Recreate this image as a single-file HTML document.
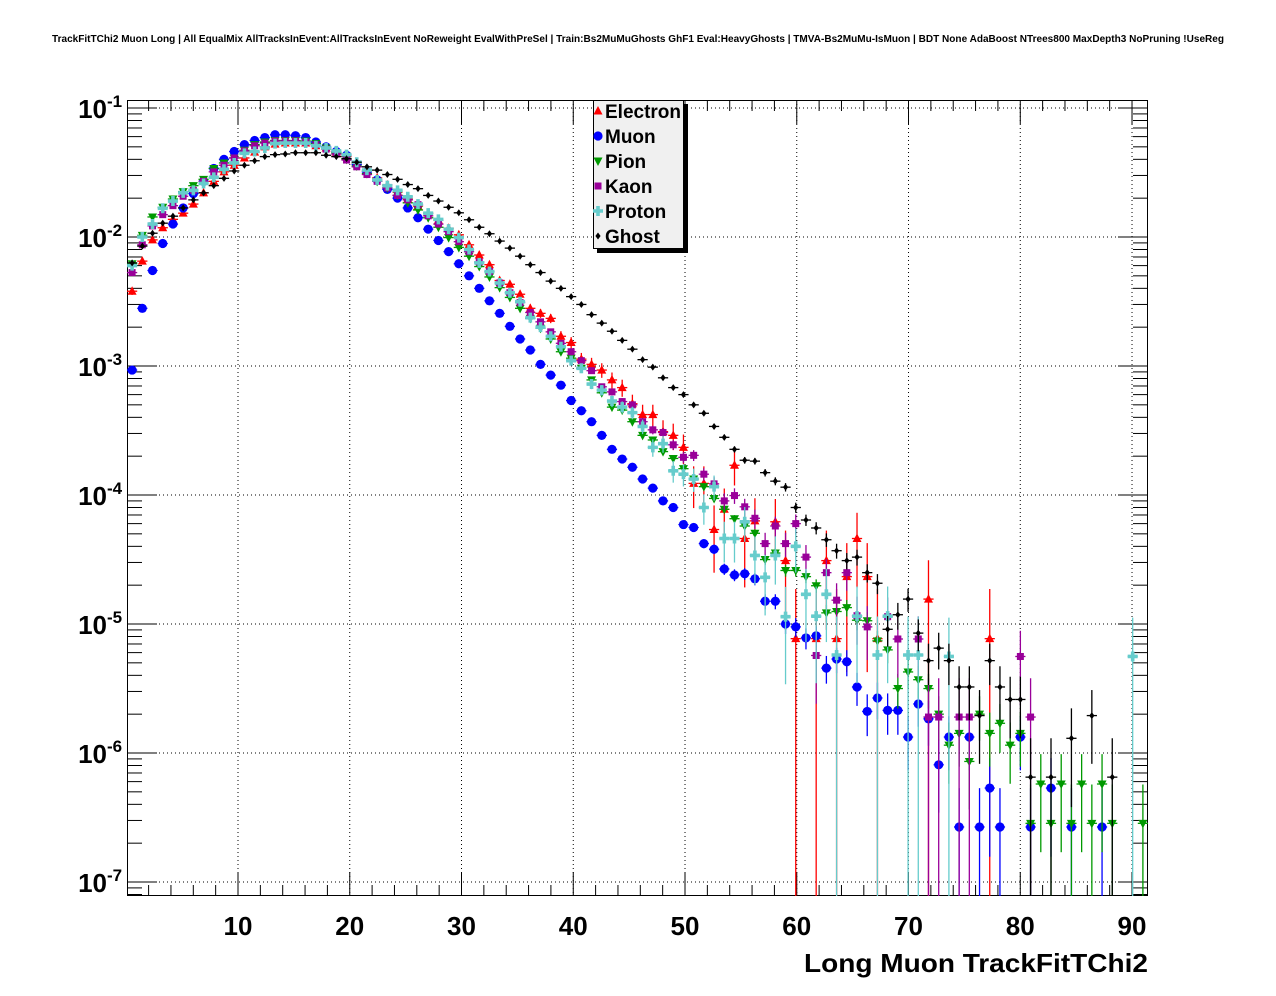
<!DOCTYPE html>
<html><head><meta charset="utf-8"><style>
html,body{margin:0;padding:0;background:#fff;}
svg{display:block;font-family:"Liberation Sans",Arial,sans-serif;}
</style></head><body>
<svg id="chart" width="1276" height="996" viewBox="0 0 1276 996" xmlns="http://www.w3.org/2000/svg">
<rect x="0" y="0" width="1276" height="996" fill="#fff"/>
<text x="638" y="42" text-anchor="middle" font-size="10" font-weight="bold" textLength="1172" lengthAdjust="spacingAndGlyphs">TrackFitTChi2 Muon Long | All EqualMix AllTracksInEvent:AllTracksInEvent NoReweight EvalWithPreSel | Train:Bs2MuMuGhosts GhF1 Eval:HeavyGhosts | TMVA-Bs2MuMu-IsMuon | BDT None AdaBoost NTrees800 MaxDepth3 NoPruning !UseReg</text>
<g id="grid"></g>
<g id="axes"></g>
<g id="series"></g>
<text x="1148" y="972" text-anchor="end" font-size="26" font-weight="bold" textLength="344" lengthAdjust="spacingAndGlyphs">Long Muon TrackFitTChi2</text>
<g id="legend">
<rect x="597" y="104" width="91" height="149" fill="#000"/>
<rect x="593.5" y="100.5" width="90" height="148" fill="#f0f0f0" stroke="#000" stroke-width="1"/>
</g>
</svg>
<script>
const xMin = 0.067, xMax = 91.43, nBins = 100;
const xTicks = [10,20,30,40,50,60,70,80,90];
const yDecades = [-1,-2,-3,-4,-5,-6,-7];
const seriesNames = ["Electron","Muon","Pion","Kaon","Proton","Ghost"];
const N = null;
const electron = [3.8e-3,6.5e-3,9.5e-3,1.18e-2,1.37e-2,1.53e-2,1.8e-2,2.2e-2,2.7e-2,3.2e-2,
3.6e-2,4.1e-2,4.55e-2,5.0e-2,5.25e-2,5.35e-2,5.35e-2,5.35e-2,5.1e-2,4.9e-2,
4.55e-2,4.2e-2,3.7e-2,3.25e-2,2.87e-2,2.53e-2,2.23e-2,1.97e-2,1.74e-2,1.53e-2,
1.35e-2,1.17e-2,1.04e-2,8.7e-3,7.25e-3,6.1e-3,4.6e-3,4.3e-3,3.6e-3,2.8e-3,
2.56e-3,2.34e-3,1.7e-3,1.52e-3,1.13e-3,1.03e-3,9.3e-4,7.8e-4,6.8e-4,5.1e-4,
4.2e-4,4.2e-4,3.1e-4,2.9e-4,2.34e-4,1.23e-4,1.23e-4,5.4e-5,7.75e-5,1.7e-4,
4.6e-5,6.3e-5,N,6.2e-5,3.1e-5,7.7e-6,N,7.7e-6,3.1e-5,7.7e-6,
2.33e-5,4.6e-5,2.33e-5,7.7e-6,N,N,N,N,1.56e-5,N,
N,N,N,N,7.7e-6,N,N,N,N,N,
N,N,N,N,N,N,N,N,N,N];
const muon = [9.3e-4,2.8e-3,5.5e-3,8.9e-3,1.26e-2,1.68e-2,2.17e-2,2.7e-2,3.4e-2,4.0e-2,
4.6e-2,5.2e-2,5.6e-2,5.9e-2,6.2e-2,6.2e-2,6.1e-2,5.9e-2,5.45e-2,5.0e-2,
4.6e-2,4.3e-2,3.65e-2,3.2e-2,2.77e-2,2.34e-2,2.0e-2,1.68e-2,1.41e-2,1.15e-2,
9.4e-3,7.7e-3,6.2e-3,5.0e-3,4.0e-3,3.2e-3,2.56e-3,2.03e-3,1.62e-3,1.33e-3,
1.03e-3,8.5e-4,7.1e-4,5.4e-4,4.5e-4,3.7e-4,2.9e-4,2.26e-4,1.9e-4,1.64e-4,
1.33e-4,1.13e-4,9.0e-5,8.0e-5,5.9e-5,5.6e-5,4.2e-5,3.8e-5,2.67e-5,2.4e-5,
2.45e-5,2.24e-5,1.5e-5,1.5e-5,1.0e-5,9.5e-6,7.8e-6,8.1e-6,4.55e-6,5.35e-6,
5.1e-6,3.25e-6,2.1e-6,2.67e-6,2.14e-6,2.14e-6,1.33e-6,2.4e-6,1.84e-6,8.1e-7,
1.33e-6,2.67e-7,1.33e-6,2.67e-7,5.35e-7,2.67e-7,N,1.33e-6,2.67e-7,N,
5.35e-7,N,2.67e-7,N,N,2.67e-7,N,N,N,N];
const pion = [6.2e-3,1.03e-2,1.43e-2,1.7e-2,1.97e-2,2.25e-2,2.5e-2,2.8e-2,3.4e-2,3.75e-2,
4.1e-2,4.7e-2,5.2e-2,5.45e-2,5.6e-2,5.6e-2,5.6e-2,5.55e-2,5.3e-2,4.9e-2,
4.5e-2,4.0e-2,3.55e-2,3.1e-2,2.7e-2,2.4e-2,2.1e-2,1.84e-2,1.62e-2,1.41e-2,
1.19e-2,9.9e-3,8.3e-3,7.1e-3,5.9e-3,4.9e-3,4.05e-3,3.4e-3,2.8e-3,2.34e-3,
1.96e-3,1.62e-3,1.29e-3,1.15e-3,9.6e-4,7.8e-4,6.2e-4,4.8e-4,4.55e-4,3.7e-4,
2.9e-4,2.67e-4,2.17e-4,1.92e-4,1.6e-4,1.33e-4,1.16e-4,9.4e-5,7.75e-5,6.55e-5,
5.75e-5,5.05e-5,3.16e-5,3.55e-5,2.6e-5,2.6e-5,2.33e-5,1.98e-5,1.22e-5,1.25e-5,
1.34e-5,1.07e-5,1.06e-5,7.4e-6,6.3e-6,3.16e-6,4.25e-6,3.7e-6,3.16e-6,2.0e-6,
1.15e-6,1.42e-6,8.6e-7,2.0e-6,1.42e-6,1.7e-6,1.15e-6,1.42e-6,2.85e-7,5.75e-7,
2.85e-7,5.75e-7,2.85e-7,5.75e-7,2.85e-7,5.75e-7,2.85e-7,N,N,2.85e-7];
const kaon = [5.3e-3,8.7e-3,1.22e-2,1.49e-2,1.75e-2,2.07e-2,2.3e-2,2.7e-2,3.2e-2,3.6e-2,
4.1e-2,4.65e-2,5.1e-2,5.35e-2,5.55e-2,5.55e-2,5.55e-2,5.45e-2,5.2e-2,4.8e-2,
4.4e-2,3.95e-2,3.5e-2,3.05e-2,2.7e-2,2.4e-2,2.1e-2,1.94e-2,1.78e-2,1.46e-2,
1.26e-2,1.1e-2,9.2e-3,7.7e-3,6.4e-3,5.4e-3,4.4e-3,3.7e-3,3.1e-3,2.6e-3,
2.2e-3,1.84e-3,1.5e-3,1.29e-3,1.1e-3,9.2e-4,6.9e-4,6.3e-4,5.3e-4,5.0e-4,
3.7e-4,3.2e-4,3.05e-4,2.45e-4,1.96e-4,2.03e-4,1.45e-4,1.22e-4,9.0e-5,9.9e-5,
8.1e-5,6.6e-5,4.2e-5,5.75e-5,4.2e-5,6.0e-5,3.3e-5,5.7e-6,2.5e-5,1.53e-5,
2.5e-5,1.16e-5,9.5e-6,N,1.14e-5,7.65e-6,N,7.65e-6,1.9e-6,1.9e-6,
N,1.9e-6,1.9e-6,N,N,N,N,5.6e-6,1.9e-6,N,
N,N,N,N,N,N,N,N,N,N];
const proton = [6.0e-3,1.0e-2,1.26e-2,1.67e-2,1.9e-2,2.2e-2,2.3e-2,2.6e-2,2.9e-2,3.35e-2,
3.75e-2,4.45e-2,4.6e-2,4.9e-2,5.3e-2,5.35e-2,5.35e-2,5.35e-2,5.1e-2,4.9e-2,
4.65e-2,4.35e-2,3.8e-2,3.3e-2,2.77e-2,2.5e-2,2.3e-2,2.05e-2,1.8e-2,1.53e-2,
1.37e-2,1.15e-2,9.9e-3,8.0e-3,6.3e-3,5.4e-3,4.4e-3,3.7e-3,3.15e-3,2.37e-3,
2.0e-3,1.7e-3,1.41e-3,1.1e-3,9.6e-4,7.25e-4,6.5e-4,5.35e-4,4.8e-4,4.35e-4,
3.4e-4,2.34e-4,2.5e-4,1.54e-4,1.45e-4,1.33e-4,8.0e-5,1.16e-4,4.6e-5,4.6e-5,
6.2e-5,3.4e-5,2.3e-5,3.4e-5,1.14e-5,4.0e-5,1.7e-5,1.15e-5,1.7e-5,5.75e-6,
N,1.15e-5,N,5.75e-6,1.15e-5,N,5.75e-6,5.75e-6,N,N,
5.6e-6,N,N,N,N,N,N,N,N,N,
N,N,N,N,N,N,N,N,5.6e-6,N];
const ghost = [6.3e-3,8.5e-3,1.07e-2,1.28e-2,1.45e-2,1.68e-2,1.94e-2,2.2e-2,2.5e-2,2.85e-2,
3.25e-2,3.6e-2,3.9e-2,4.2e-2,4.35e-2,4.4e-2,4.5e-2,4.5e-2,4.5e-2,4.3e-2,
4.2e-2,4.05e-2,3.8e-2,3.5e-2,3.3e-2,3.05e-2,2.8e-2,2.55e-2,2.37e-2,2.1e-2,
1.9e-2,1.7e-2,1.54e-2,1.36e-2,1.19e-2,1.06e-2,9.3e-3,8.2e-3,7.1e-3,6.1e-3,
5.3e-3,4.55e-3,4.0e-3,3.45e-3,3.0e-3,2.5e-3,2.15e-3,1.86e-3,1.58e-3,1.35e-3,
1.12e-3,9.8e-4,8.1e-4,6.8e-4,6.0e-4,5.0e-4,4.3e-4,3.4e-4,2.8e-4,2.26e-4,
1.86e-4,1.83e-4,1.49e-4,1.28e-4,1.15e-4,8.0e-5,6.4e-5,5.55e-5,4.5e-5,3.7e-5,
3.1e-5,3.3e-5,2.5e-5,2.07e-5,9.1e-6,1.18e-5,1.56e-5,8.5e-6,5.2e-6,6.5e-6,
5.2e-6,3.25e-6,3.25e-6,1.95e-6,5.2e-6,3.25e-6,2.6e-6,2.6e-6,6.5e-7,N,
6.5e-7,N,1.3e-6,N,1.95e-6,N,6.5e-7,N,N,N];
/* single-entry weight per sample, used for Poisson-like error bars */
const unitWeights = [1.56e-5,2.67e-7,2.85e-7,1.9e-6,5.6e-6,6.5e-7];

const NS="http://www.w3.org/2000/svg";
const L=127,R=1148,T=100,B=896;
function xs(v){return L+(v-xMin)/(xMax-xMin)*(R-L);}
function ys(v){return 108+(-1-Math.log10(v))*129;}
function mk(tag,attrs,parent){const e=document.createElementNS(NS,tag);for(const k in attrs)e.setAttribute(k,attrs[k]);parent.appendChild(e);return e;}
const grid=document.getElementById('grid'),axes=document.getElementById('axes'),ser=document.getElementById('series'),leg=document.getElementById('legend');

// grid lines
xTicks.forEach(t=>{const l=mk('line',{x1:xs(t),x2:xs(t),y1:T,y2:B,stroke:'#000','stroke-width':1,'stroke-dasharray':'1 3'},grid);

});
yDecades.forEach(d=>{const y=ys(Math.pow(10,d));const l=mk('line',{x1:L,x2:R,y1:y,y2:y,stroke:'#000','stroke-width':1,'stroke-dasharray':'1 3'},grid);

});

// frame
const fr=mk('rect',{x:L+0.5,y:T+0.5,width:R-L-1,height:B-T-1,fill:'none',stroke:'#000','stroke-width':1},axes);



// x ticks
for(let t=2;t<=90;t+=2){const maj=(t%10===0);const h=maj?24:11;const x=xs(t);
 const a=mk('line',{x1:x,x2:x,y1:B,y2:B-h,stroke:'#000','stroke-width':1},axes);
 
 
 const b=mk('line',{x1:x,x2:x,y1:T,y2:T+h,stroke:'#000','stroke-width':1},axes);
 
 }
xTicks.forEach(t=>{const tx=mk('text',{x:xs(t),y:935,'text-anchor':'middle','font-size':26,'font-weight':'bold'},axes);tx.textContent=String(t);
 
 });

// y ticks (log)
for(let d=-8;d<=-1;d++){for(let m=1;m<=9;m++){const v=m*Math.pow(10,d);const y=ys(v);if(y<T||y>B)continue;const h=(m===1)?30:15;
 const a=mk('line',{x1:L,x2:L+h,y1:y,y2:y,stroke:'#000','stroke-width':1},axes);
 
 
 const b=mk('line',{x1:R,x2:R-h,y1:y,y2:y,stroke:'#000','stroke-width':1},axes);
 
 }}
yDecades.forEach(d=>{const y=ys(Math.pow(10,d));
 const tx=mk('text',{x:107,y:y+10,'text-anchor':'end','font-size':26,'font-weight':'bold'},axes);tx.textContent='10';
 
 
 const ex=mk('text',{x:107,y:y-1,'text-anchor':'start','font-size':17,'font-weight':'bold'},axes);ex.textContent=String(d);
 
 });

const colors=['#ff0000','#0000ff','#009900','#990099','#66cccc','#000000'];
const allData=[electron,muon,pion,kaon,proton,ghost];
function marker(k,cx,cy,parent){const c=colors[k];let e;
 if(k===0)e=mk('polygon',{points:`${cx},${cy-5} ${cx+4.5},${cy+3.5} ${cx-4.5},${cy+3.5}`,fill:c},parent);
 else if(k===1)e=mk('circle',{cx:cx,cy:cy,r:4.6,fill:c},parent);
 else if(k===2)e=mk('polygon',{points:`${cx-4.5},${cy-3.5} ${cx+4.5},${cy-3.5} ${cx},${cy+5}`,fill:c},parent);
 else if(k===3)e=mk('rect',{x:cx-3.5,y:cy-3.5,width:7,height:7,fill:c},parent);
 else if(k===4)e=mk('path',{d:`M${cx-1.8},${cy-5}h3.6v3.2h3.2v3.6h-3.2v3.2h-3.6v-3.2h-3.2v-3.6h3.2z`,fill:c},parent);
 else e=mk('polygon',{points:`${cx},${cy-3.5} ${cx+2.6},${cy} ${cx},${cy+3.5} ${cx-2.6},${cy}`,fill:c},parent);
 return e;}

const w=(xMax-xMin)/nBins;
allData.forEach((arr,k)=>{const g=mk('g',{},ser);
 
 
 arr.forEach((v,i)=>{if(v===null||v<=0)return;
  const xc=xMin+(i+0.5)*w;const px=xs(xc);const py=ys(v);
  const e=Math.sqrt(v*unitWeights[k]);
  const yTop=Math.max(T,ys(v+e));const lo=v-e;const yBot=lo>0?Math.min(B,ys(lo)):B;
  const vl=mk('line',{x1:px,x2:px,y1:yTop,y2:yBot,stroke:colors[k],'stroke-width':1.3},g);
  
  
  const hl=mk('line',{x1:xs(xc-w/2),x2:xs(xc+w/2),y1:py,y2:py,stroke:colors[k],'stroke-width':1.3},g);
  
  
  if(py>=T&&py<=B){const m=marker(k,px,py,g);
  
  }
 });});

// legend entries
seriesNames.forEach((n,k)=>{const y=111+k*25;const m=marker(k,598,y,leg);
 
 
 const t=mk('text',{x:605,y:y+7,'font-size':19,'font-weight':'bold'},leg);t.textContent=n;
 
 });
</script>
</body></html>
